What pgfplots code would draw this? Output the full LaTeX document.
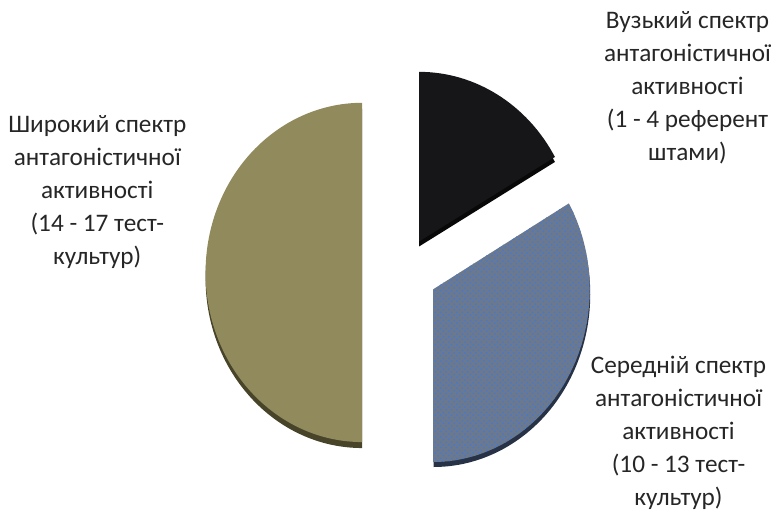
\documentclass[border=0pt]{standalone}
\usepackage{pgfplots}
\usepackage{pgfplotstable}
\pgfplotsset{compat=1.18}
\usetikzlibrary{patterns,calc}
\usepackage{fontspec}
\setmainfont{Carlito}
\definecolor{wideC}{RGB}{145,138,92}
\definecolor{wideR}{RGB}{72,68,42}
\definecolor{narrowC}{RGB}{22,22,24}
\definecolor{narrowR}{RGB}{8,8,8}
\definecolor{midC}{RGB}{108,120,140}
\definecolor{midB}{RGB}{62,122,222}
\definecolor{midR}{RGB}{40,50,70}
\pgfplotstableread{
slice value
narrow 16.7
medium 33.3
wide 50.0
}\piedata
\begin{document}
\begin{tikzpicture}
\pgfplotstablegetelem{0}{value}\of\piedata \let\vA\pgfplotsretval
\pgfplotstablegetelem{1}{value}\of\piedata \let\vB\pgfplotsretval
\pgfplotstablegetelem{2}{value}\of\piedata \let\vC\pgfplotsretval
\pgfmathsetmacro\aA{90-3.6*\vA}
\pgfmathsetmacro\aB{\aA-3.6*\vB}
\pgfmathsetmacro\aC{\aB-3.6*\vC}
\pgfmathsetmacro\tx{4.34+1.57*cos(\aA)}
\pgfmathsetmacro\ty{2.17+1.73*sin(\aA)}
\begin{axis}[
  scale only axis, width=15cm, height=9.864cm,
  xmin=0, xmax=7.71, ymin=0, ymax=5.07,
  axis line style={draw=none}, ticks=none, clip=false,
]
% wide slice (left half)
\fill[wideR] (axis cs:3.63,2.28) -- (axis cs:3.63,0.58) arc[start angle=\aB, end angle=\aC, x radius=1.57, y radius=1.70] -- cycle;
\fill[wideC] (axis cs:3.63,2.34) -- (axis cs:3.63,0.64) arc[start angle=\aB, end angle=\aC, x radius=1.57, y radius=1.70] -- cycle;
% narrow slice
\fill[narrowR] (axis cs:4.20,2.60) -- (axis cs:4.20,4.30) arc[start angle=90, end angle=\aA, x radius=1.57, y radius=1.70] -- cycle;
\fill[narrowC] (axis cs:4.20,2.65) -- (axis cs:4.20,4.35) arc[start angle=90, end angle=\aA, x radius=1.57, y radius=1.70] -- cycle;
% medium slice
\fill[midR] (axis cs:4.345,2.12) -- (axis cs:\tx+0.005,\ty-0.05) arc[start angle=\aA, end angle=\aB, x radius=1.57, y radius=1.73] -- cycle;
\fill[midC] (axis cs:4.34,2.17) -- (axis cs:\tx,\ty) arc[start angle=\aA, end angle=\aB, x radius=1.57, y radius=1.73] -- cycle;
\fill[pattern=crosshatch dots, pattern color=midB] (axis cs:4.34,2.17) -- (axis cs:\tx,\ty) arc[start angle=\aA, end angle=\aB, x radius=1.57, y radius=1.73] -- cycle;
% labels
\node[inner sep=0pt, align=center, font=\fontsize{14}{18.3}\selectfont, text=black!85] at (axis cs:0.975,3.15) {Широкий спектр\\антагоністичної\\активності\\(14 - 17 тест-\\культур)};
\node[inner sep=0pt, align=center, font=\fontsize{14}{18.3}\selectfont, text=black!85] at (axis cs:6.89,4.19) {Вузький спектр\\антагоністичної\\активності\\(1 - 4 референт\\штами)};
\node[inner sep=0pt, align=center, font=\fontsize{14}{18.3}\selectfont, text=black!85] at (axis cs:6.80,0.73) {Середній спектр\\антагоністичної\\активності\\(10 - 13 тест-\\культур)};
\end{axis}
\end{tikzpicture}
\end{document}
